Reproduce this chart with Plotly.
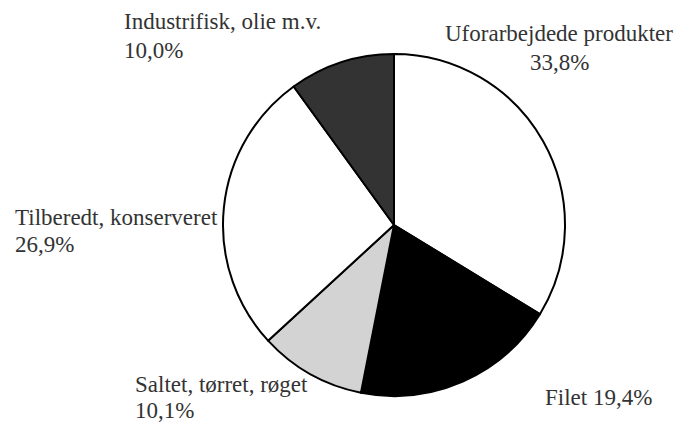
import plotly.graph_objects as go

labels = ["Uforarbejdede produkter", "Filet", "Saltet, tørret, røget", "Tilberedt, konserveret", "Industrifisk, olie m.v."]
values = [33.8, 19.4, 10.1, 26.9, 10.0]
colors = ["#ffffff", "#000000", "#d3d3d3", "#ffffff", "#333333"]

W, H = 680, 425
fig = go.Figure(go.Pie(
    labels=labels, values=values, sort=False, direction="clockwise", rotation=0,
    marker=dict(colors=colors, line=dict(color="black", width=2)),
    textinfo="none", hoverinfo="label+percent",
    domain=dict(x=[(394 - 171) / W, (394 + 171) / W], y=[1 - 396 / H, 1 - 54 / H]),
    showlegend=False,
))

def pct(v):
    return f"{v:.1f}".replace(".", ",") + "%"

# (x, y-line1, y-line2, anchor, single-line)
pos = [
    (559, 34, 62, "center", False),
    (543, 397, None, "left", True),
    (133, 384, 410, "left", False),
    (13, 217, 245, "left", False),
    (122, 22, 50, "left", False),
]
font = dict(family="Liberation Serif", size=23, color="#333333")
ann = []
for lab, v, (x, y1, y2, anc, single) in zip(labels, values, pos):
    if single:
        ann.append(dict(x=x / W, y=1 - y1 / H, xref="paper", yref="paper", text=f"{lab} {pct(v)}",
                        showarrow=False, xanchor=anc, yanchor="middle", font=font))
    else:
        ann.append(dict(x=x / W, y=1 - y1 / H, xref="paper", yref="paper", text=lab,
                        showarrow=False, xanchor=anc, yanchor="middle", font=font))
        ann.append(dict(x=x / W, y=1 - y2 / H, xref="paper", yref="paper", text=pct(v),
                        showarrow=False, xanchor=anc, yanchor="middle", font=font))

fig.update_layout(width=W, height=H, margin=dict(l=0, r=0, t=0, b=0),
                  paper_bgcolor="white", plot_bgcolor="white", annotations=ann)
fig.write_html("out.html", config={"displayModeBar": False},
               post_script="document.body.style.margin='0';document.body.style.overflow='hidden';")
